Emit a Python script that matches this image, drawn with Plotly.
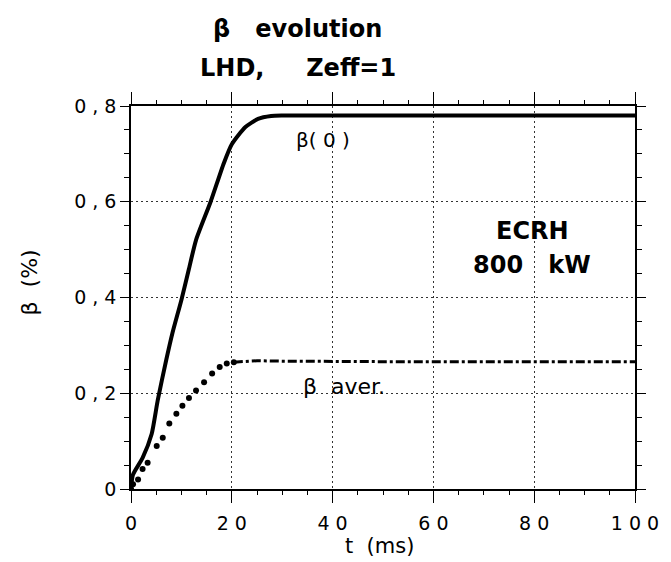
import plotly.graph_objects as go

# beta(0) central beta, %
t_b0 = [0, 0.4, 2.3, 4.1, 5.3, 7, 8.2, 10, 11.5, 12.9, 15.8, 18.4, 20, 22.7, 25.2, 27.8, 30, 40, 50, 60, 70, 80, 90, 100]
b0 = [0, 0.03, 0.065, 0.115, 0.185, 0.27, 0.325, 0.395, 0.46, 0.52, 0.60, 0.68, 0.72, 0.756, 0.773, 0.779, 0.78, 0.78, 0.78, 0.78, 0.78, 0.78, 0.78, 0.78]

# averaged beta, %: dotted (marker) part and dash-dot part
t_avg_pts = [0, 0.4, 1.4, 2.3, 3.3, 5.1, 6.3, 7.6, 9, 10.2, 11.5, 12.9, 14.5, 16.1, 17.6, 19, 20.4]
b_avg_pts = [0, 0.01, 0.02, 0.042, 0.055, 0.09, 0.107, 0.137, 0.157, 0.174, 0.19, 0.206, 0.223, 0.241, 0.255, 0.262, 0.265]
t_avg_line = [20.4, 25, 30, 40, 50, 60, 70, 80, 90, 100]
b_avg_line = [0.265, 0.268, 0.267, 0.266, 0.266, 0.266, 0.266, 0.266, 0.266, 0.266]

x_tickvals = [0, 20, 40, 60, 80, 100]
x_ticktext = ["0", "2 0", "4 0", "6 0", "8 0", "1 0 0"]
y_tickvals = [0, 0.2, 0.4, 0.6, 0.8]
y_ticktext = ["0", "0 , 2", "0 , 4", "0 , 6", "0 , 8"]

W, H = 671, 562
L, R, T, B = 131, 29, 106, 73
PW, PH = W - L - R, H - T - B

def px_to_paper(px, py):
    return (px - L) / PW, (H - B - py) / PH

FONT = "DejaVu Sans, Verdana, sans-serif"

fig = go.Figure()
fig.add_trace(go.Scatter(x=t_b0, y=b0, mode="lines",
                         line=dict(color="black", width=4, shape="spline", smoothing=0.6), showlegend=False))
fig.add_trace(go.Scatter(x=t_avg_pts, y=b_avg_pts, mode="markers",
                         marker=dict(color="black", size=6), showlegend=False))
fig.add_trace(go.Scatter(x=t_avg_line, y=b_avg_line, mode="lines",
                         line=dict(color="black", width=3, dash="dashdot"), showlegend=False))

axis_common = dict(
    showline=True, linecolor="black", linewidth=1.5, mirror="ticks",
    ticks="outside", tickcolor="black", tickwidth=1.2,
    showgrid=True, gridcolor="#333", griddash="1.5px,3.5px", gridwidth=1,
    zeroline=False, tickfont=dict(family=FONT, size=19, color="black"),
)

fig.update_xaxes(range=[0, 100], tickmode="array", tickvals=x_tickvals, ticktext=x_ticktext,
                 ticklen=12, ticklabelstandoff=4,
                 minor=dict(dtick=5, ticks="outside", ticklen=4, tickcolor="black", showgrid=False),
                 **axis_common)
fig.update_yaxes(range=[0, 0.8], tickmode="array", tickvals=y_tickvals, ticktext=y_ticktext,
                 ticklen=9, minor=dict(dtick=0.05, ticks="outside", ticklen=5, tickcolor="black", showgrid=False),
                 **axis_common)

fig.add_annotation(x=38, y=0.729, xref="x", yref="y", text="β( 0 )", showarrow=False,
                   font=dict(family=FONT, size=20, color="black"))
fig.add_annotation(x=42.3, y=0.214, xref="x", yref="y", text="β  aver.", showarrow=False,
                   font=dict(family=FONT, size=22, color="black"))
fig.add_annotation(x=79.6, y=0.538, xref="x", yref="y", text="<b>ECRH</b>", showarrow=False,
                   font=dict(family=FONT, size=24, color="black"))
fig.add_annotation(x=79.6, y=0.467, xref="x", yref="y", text="<b>800   kW</b>", showarrow=False,
                   font=dict(family=FONT, size=24, color="black"))

# title lines
for text, py in [("<b>β   evolution</b>", 29), ("<b>LHD,     Zeff=1</b>", 68)]:
    ax, ay = px_to_paper(300, py)
    fig.add_annotation(x=ax, y=ay, xref="paper", yref="paper", text=text,
                       showarrow=False, font=dict(family=FONT, size=24, color="black"),
                       xanchor="center", yanchor="middle")
# x-axis title
ax, ay = px_to_paper(383, 546)
fig.add_annotation(x=ax, y=ay, xref="paper", yref="paper", text="t  (ms)",
                   showarrow=False, font=dict(family=FONT, size=21, color="black"),
                   xanchor="center", yanchor="middle")
# y-axis title
ax, ay = px_to_paper(28, 282)
fig.add_annotation(x=ax, y=ay, xref="paper", yref="paper", text="β  (%)",
                   showarrow=False, textangle=-90, font=dict(family=FONT, size=22, color="black"),
                   xanchor="center", yanchor="middle")

fig.update_layout(
    width=W, height=H, margin=dict(l=L, r=R, t=T, b=B),
    paper_bgcolor="white", plot_bgcolor="white",
    showlegend=False,
)

fig.write_html("out.html")
